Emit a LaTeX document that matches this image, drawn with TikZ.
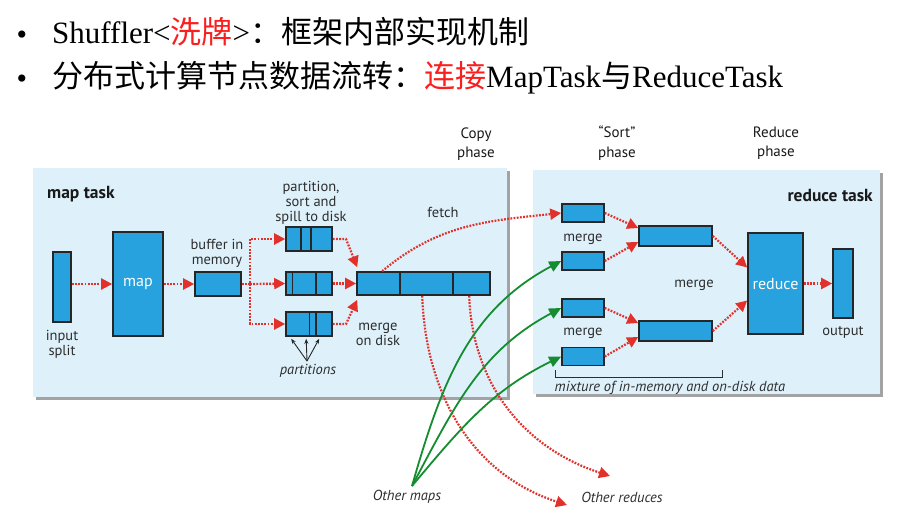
\documentclass[tikz,border=0pt]{standalone}
\usepackage{fontspec}
\setmainfont{Liberation Serif}
\newfontfamily\cjk{Noto Sans CJK SC}
\newfontfamily\dg{PT Sans}
\usetikzlibrary{arrows.meta,calc,shadows}
\definecolor{boxblue}{RGB}{40,162,222}
\definecolor{panelblue}{RGB}{222,241,251}
\definecolor{arrred}{RGB}{226,48,42}
\definecolor{arrgreen}{RGB}{22,140,48}
\definecolor{txtgray}{RGB}{45,45,45}
\definecolor{titlered}{RGB}{250,30,30}
\begin{document}
\begin{tikzpicture}[x=1pt,y=-1pt,
  panel/.style={fill=panelblue, draw=none, inner sep=0pt,
    drop shadow={shadow xshift=3pt, shadow yshift=-3pt, fill=black!45, opacity=0.8}},
  box/.style={draw=black!85, line width=1.6pt, fill=boxblue, inner sep=0pt},
  lbl/.style={text=txtgray, font=\dg\fontsize{14.5}{15}\selectfont, align=center, inner sep=0pt},
  ilbl/.style={text=txtgray, font=\dg\itshape\fontsize{14.5}{15}\selectfont, inner sep=0pt},
  hdr/.style={text=black!90, font=\dg\fontsize{15}{19.5}\selectfont, align=center, inner sep=0pt},
  ttl/.style={text=black!90, font=\dg\bfseries\fontsize{17.5}{18}\selectfont, inner sep=0pt},
  wlbl/.style={text=white, font=\dg\fontsize{16}{17}\selectfont, inner sep=0pt},
  rarr/.style={draw=arrred, line width=2.2pt, dash pattern=on 1.8pt off 1.4pt,
    -{Triangle[length=11pt,width=11pt]}},
  garr/.style={draw=arrgreen, line width=1.8pt, -{Triangle[length=12pt,width=11pt]}},
  parr/.style={draw=black!85, line width=0.9pt, -{Stealth[length=5pt,width=4pt]}},
  divider/.style={draw=black!85, line width=1.6pt},
  bullettxt/.style={font=\fontsize{30}{30}\selectfont, inner sep=0pt, anchor=base},
  titletxt/.style={font=\fontsize{31}{31}\selectfont, inner sep=0pt, anchor=base west}
]
\useasboundingbox (0,0) rectangle (911,522);
\fill[white] (0,0) rectangle (911,522);

% ---------- title lines ----------
\node[bullettxt] (b1) at (22,45) {•};
\node[titletxt] (t1) at (52,43.5) {Shuffler<{\cjk\color{titlered}洗牌}>{\cjk ：框架内部实现机制}};
\node[bullettxt] (b2) at (22,88.5) {•};
\node[titletxt] (t2) at (52,87) {{\cjk 分布式计算节点数据流转：}{\cjk\color{titlered}连接}MapTask{\cjk 与}ReduceTask};

% ---------- panels ----------
\node[panel, minimum width=474pt, minimum height=229pt] (mappanel) at (270,282.5) {};
\node[panel, minimum width=347pt, minimum height=224pt] (redpanel) at (706.5,282) {};

% ---------- headers ----------
\node[hdr] (copyh) at (476,144) {Copy\\phase};
\node[hdr] (sorth) at (617,143) {“Sort”\\phase};
\node[hdr] (reduceh) at (776,143) {Reduce\\phase};
\node[ttl, anchor=west] (maptask) at (47,194) {map task};
\node[ttl, anchor=east] (reducetask) at (873,195) {reduce task};

% ---------- map side boxes ----------
\node[box, minimum width=18pt, minimum height=70pt] (input) at (62,287) {};
\node[box, minimum width=50pt, minimum height=104pt] (map) at (138,284) {};
\node[wlbl] (maptxt) at (138,284) {map};
\node[box, minimum width=46pt, minimum height=24pt] (buffer) at (218,284) {};
\node[box, minimum width=46pt, minimum height=24pt] (p1) at (309,239) {};
\node[box, minimum width=46pt, minimum height=23pt] (p2) at (309,283.5) {};
\node[box, minimum width=46pt, minimum height=24pt] (p3) at (309,324) {};
\node[box, minimum width=133pt, minimum height=23pt] (merged) at (423.5,283.5) {};

\draw[divider] (300.7,227) -- (300.7,251);
\draw[divider] (310.7,227) -- (310.7,251);
\draw[divider] (292.3,272) -- (292.3,295);
\draw[divider] (315.7,272) -- (315.7,295);
\draw[divider] (309.3,312) -- (309.3,336);
\draw[divider] (315.7,312) -- (315.7,336);
\draw[divider] (400,272) -- (400,295);
\draw[divider] (453,272) -- (453,295);

% map side labels
\node[lbl] (inputlbl) at (62,344) {input\\split};
\node[lbl] (bufferlbl) at (217,253) {buffer in\\memory};
\node[lbl] (partlbl) at (311,203) {partition,\\sort and\\spill to disk};
\node[ilbl] (partitions) at (308,371) {partitions};
\node[lbl] (mergedisk) at (378,334) {merge\\on disk};
\node[lbl] (fetch) at (443,212) {fetch};

% ---------- reduce side boxes ----------
\node[box, minimum width=42pt, minimum height=18pt] (r1) at (583,213) {};
\node[box, minimum width=42pt, minimum height=18pt] (r2) at (583,261) {};
\node[box, minimum width=42pt, minimum height=18pt] (r3) at (583,308) {};
\node[box, minimum width=42pt, minimum height=18pt] (r4) at (583,356.5) {};
\node[box, minimum width=73pt, minimum height=20pt] (m5) at (675.5,236) {};
\node[box, minimum width=73pt, minimum height=20pt] (m6) at (675.5,331) {};
\node[box, minimum width=55pt, minimum height=101pt] (reduce) at (775.5,283.5) {};
\node[wlbl] (reducetxt) at (775.5,283.5) {reduce};
\node[box, minimum width=20pt, minimum height=69pt] (output) at (843,283.5) {};

\node[lbl] (merge1) at (583,239) {merge};
\node[lbl] (merge2) at (583,333) {merge};
\node[lbl] (merge3) at (694,285) {merge};
\node[lbl] (outputlbl) at (843,332) {output};
\node[ilbl] (mixture) at (670,388) {mixture of in-memory and on-disk data};
\draw[draw=txtgray, line width=0.8pt] (555,370) -- (555,377) -- (722,377) -- (722,370);

% ---------- outside labels ----------
\node[ilbl] (othermaps) at (407,497) {Other maps};
\node[ilbl] (otherreduces) at (622,497) {Other reduces};

% ---------- coordinates ----------
\coordinate (split) at (250,284);
\coordinate (pconv) at (307,361);
\coordinate (gsrc) at (412,486);
\coordinate (ortip1) at (567,505);
\coordinate (ortip2) at (610,476);

% ---------- map side arrows ----------
\draw[rarr] (input.east |- map) -- (map.west);
\draw[rarr] (map.east |- buffer) -- (buffer.west);
\draw[rarr] (buffer.east) -- (split) |- (p1.west);
\draw[rarr] (split) -- (p2.west);
\draw[rarr] (split) |- (p3.west);
\draw[rarr] (p1.east) -- (346,239) -- ($(merged.north west)+(1,-4)$);
\draw[rarr] (p2.east) -- (merged.west);
\draw[rarr] (p3.east) -- (346,324) -- ($(merged.south west)+(1,4)$);

\draw[parr] (pconv) -- ($(p3.south west)+(6,2)$);
\draw[parr] (pconv) -- ($(p3.south west)+(21,2)$);
\draw[parr] (pconv) -- ($(p3.south west)+(34,2)$);

% ---------- fetch and reduce side arrows ----------
\draw[rarr] ($(merged.north west)+(26,0)$) to[out=40,in=186] (r1.west);
\draw[rarr] (r1.east) -- ($(m5.west)+(0,-8)$);
\draw[rarr] (r2.east) -- ($(m5.west)+(0,6)$);
\draw[rarr] (r3.east) -- ($(m6.west)+(0,-8)$);
\draw[rarr] (r4.east) -- ($(m6.west)+(0,6)$);
\draw[rarr] (m5.east) -- ($(reduce.west)+(0,-16)$);
\draw[rarr] (m6.east) -- ($(reduce.west)+(0,17)$);
\draw[rarr] (reduce.east) -- (output.west);

% ---------- other reduces (red) ----------
\draw[rarr] ($(merged.south west)+(66,0)$) to[out=-88,in=162] (ortip1);
\draw[rarr] ($(merged.south west)+(113,0)$) to[out=-88,in=162] (ortip2);

% ---------- other maps (green) ----------
\draw[garr] (gsrc) to[out=74,in=208] (r2.west);
\draw[garr] (gsrc) to[out=62,in=208] (r3.west);
\draw[garr] (gsrc) to[out=50,in=206] (r4.west);
\end{tikzpicture}
\end{document}
